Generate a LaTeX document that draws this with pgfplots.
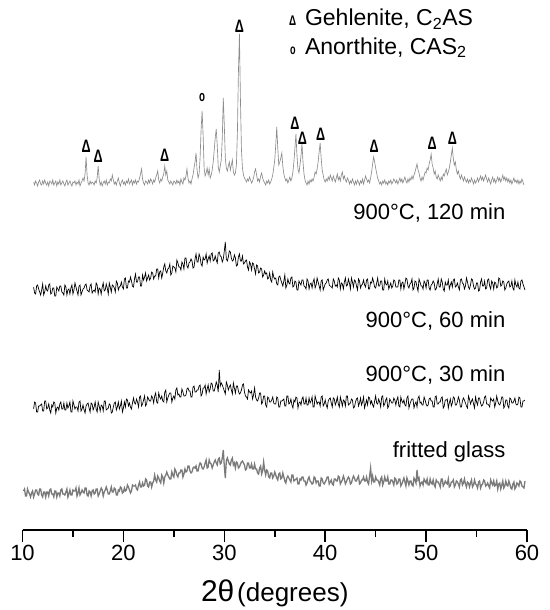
\documentclass[border=0pt]{standalone}
\usepackage{fontspec}
\setmainfont{Liberation Sans}
\usepackage{graphicx}
\usepackage{pgfplots}
\pgfplotsset{compat=1.18}
\definecolor{xrdgray}{HTML}{8C8C8C}
\definecolor{glassgray}{HTML}{7A7A7A}
\newcommand{\dmark}{\scalebox{0.7}[1]{\bfseries Δ}}
\newcommand{\omark}{\scalebox{0.65}[1]{\bfseries o}}

\begin{document}
\begin{tikzpicture}
\begin{axis}[
  scale only axis, width=504.5pt, height=530pt,
  xmin=10, xmax=60, ymin=0, ymax=530,
  axis x line=bottom, axis y line=none,
  axis line style={-, line width=1.6pt},
  xtick={10,20,...,60}, minor xtick={15,25,...,55}, ytick=\empty,
  tick align=outside, major tick length=12pt, minor tick length=7pt,
  tick style={black, line width=1.6pt},
  /pgf/number format/assume math mode=true,
  xticklabel style={font=\fontsize{22}{26}\selectfont},
  xlabel={{\fontsize{30}{30}\selectfont 2θ} {\fontsize{26}{26}\selectfont (degrees)}},
  xlabel style={at={(axis description cs:0.5,0)}, anchor=center, yshift=-63pt},
  clip=false,
  legend style={at={(axis cs:35.9,525)}, anchor=north west, draw=none, fill=none,
    font=\fontsize{23}{27}\selectfont, row sep=6pt},
  legend cell align=left,
]
% 900 C, 120 min: crystallised, step 0.1
\addplot[xrdgray, line width=0.65pt, forget plot] table[header=false, row sep=\\, x expr={11.1+0.1*\coordindex}, y index=0] {
348\\345\\349\\347\\344\\348\\350\\346\\345\\349\\
346\\350\\347\\345\\348\\344\\349\\348\\346\\350\\
345\\347\\349\\344\\348\\346\\350\\345\\347\\349\\
346\\344\\348\\350\\345\\347\\349\\346\\344\\348\\
347\\349\\345\\348\\346\\350\\344\\347\\349\\352\\
349\\356\\373\\355\\347\\345\\349\\346\\348\\347\\
345\\349\\347\\352\\364\\351\\345\\348\\344\\347\\
349\\346\\350\\345\\348\\347\\351\\349\\355\\350\\
346\\348\\345\\349\\352\\347\\344\\348\\350\\346\\
348\\345\\349\\347\\351\\346\\348\\350\\345\\349\\
347\\350\\346\\349\\348\\352\\356\\361\\351\\347\\
345\\349\\348\\346\\350\\347\\351\\349\\346\\350\\
348\\352\\355\\359\\350\\347\\351\\349\\353\\356\\
364\\355\\359\\350\\348\\346\\349\\347\\345\\349\\
348\\346\\350\\347\\349\\345\\351\\348\\346\\352\\
350\\354\\361\\352\\347\\349\\346\\351\\355\\362\\
368\\377\\360\\352\\356\\372\\400\\419\\395\\362\\
354\\357\\362\\355\\361\\352\\355\\360\\368\\380\\
392\\401\\385\\363\\358\\364\\370\\392\\432\\405\\
372\\362\\359\\364\\368\\360\\365\\370\\358\\355\\
357\\365\\398\\458\\496\\430\\380\\362\\355\\352\\
350\\348\\351\\349\\353\\350\\347\\349\\352\\358\\
361\\355\\349\\351\\348\\354\\357\\352\\349\\347\\
345\\349\\347\\350\\346\\348\\351\\355\\362\\370\\
385\\403\\382\\365\\368\\372\\377\\364\\356\\352\\
349\\351\\347\\350\\353\\349\\352\\358\\368\\382\\
396\\375\\361\\357\\365\\374\\386\\368\\356\\350\\
347\\345\\349\\346\\350\\348\\351\\349\\353\\358\\
356\\361\\368\\378\\387\\372\\360\\355\\350\\348\\
351\\349\\353\\350\\355\\352\\349\\354\\351\\348\\
352\\356\\350\\353\\349\\355\\358\\351\\354\\350\\
348\\352\\350\\346\\349\\347\\351\\348\\345\\349\\
346\\350\\348\\345\\349\\347\\351\\346\\350\\354\\
351\\348\\350\\347\\352\\358\\366\\373\\368\\362\\
357\\352\\349\\346\\348\\345\\349\\347\\350\\346\\
348\\345\\349\\347\\350\\346\\348\\351\\349\\347\\
350\\346\\349\\352\\348\\351\\347\\350\\353\\349\\
347\\351\\348\\352\\350\\354\\351\\355\\358\\362\\
366\\360\\357\\352\\349\\353\\350\\354\\358\\357\\
362\\360\\366\\370\\376\\366\\362\\356\\359\\353\\
351\\355\\352\\349\\353\\350\\356\\354\\358\\361\\
355\\358\\362\\368\\375\\382\\371\\365\\368\\360\\
356\\359\\354\\351\\355\\352\\349\\353\\350\\348\\
351\\347\\350\\348\\352\\349\\346\\350\\347\\349\\
352\\348\\351\\354\\350\\353\\349\\352\\355\\351\\
348\\352\\349\\346\\350\\353\\348\\351\\347\\350\\
353\\349\\352\\348\\351\\355\\350\\353\\349\\352\\
348\\351\\347\\350\\346\\349\\352\\348\\350\\347\\
350\\346\\349\\347\\351\\348\\345\\
};
% 900 C, 60 min: step 0.1
\addplot[black, line width=0.7pt, forget plot] table[header=false, row sep=\\, x expr={11.1+0.1*\coordindex}, y index=0] {
243\\237\\236\\244\\245\\241\\238\\235\\240\\246\\
235\\238\\244\\240\\239\\245\\246\\236\\237\\242\\
242\\234\\234\\243\\241\\239\\244\\244\\238\\237\\
235\\245\\243\\235\\240\\241\\236\\242\\245\\236\\
240\\247\\243\\239\\235\\244\\245\\235\\238\\241\\
242\\245\\246\\240\\239\\238\\244\\246\\237\\239\\
240\\238\\247\\245\\236\\242\\241\\236\\243\\247\\
239\\240\\246\\242\\236\\247\\243\\238\\245\\244\\
242\\238\\249\\247\\240\\243\\244\\248\\243\\241\\
251\\252\\242\\242\\249\\248\\253\\249\\244\\243\\
251\\256\\248\\248\\253\\253\\244\\244\\255\\250\\
253\\257\\249\\252\\255\\250\\252\\258\\257\\251\\
254\\254\\261\\261\\252\\258\\259\\252\\257\\263\\
266\\259\\257\\261\\262\\266\\255\\257\\264\\263\\
262\\258\\270\\267\\263\\263\\260\\268\\266\\261\\
272\\272\\264\\262\\267\\268\\271\\269\\262\\263\\
271\\276\\268\\268\\276\\273\\266\\264\\273\\270\\
271\\276\\267\\271\\274\\269\\276\\277\\269\\270\\
274\\270\\267\\277\\278\\274\\273\\268\\271\\279\\
288\\271\\269\\273\\279\\278\\272\\269\\270\\275\\
272\\264\\265\\273\\276\\269\\269\\274\\266\\267\\
269\\270\\263\\260\\268\\266\\260\\267\\266\\261\\
256\\265\\264\\257\\258\\262\\261\\253\\255\\259\\
256\\257\\251\\252\\257\\250\\248\\258\\253\\251\\
252\\246\\245\\253\\254\\250\\247\\244\\249\\255\\
242\\245\\251\\247\\246\\252\\253\\243\\244\\249\\
248\\240\\240\\249\\247\\245\\250\\250\\244\\243\\
241\\251\\249\\241\\246\\247\\242\\248\\251\\242\\
245\\252\\248\\244\\240\\249\\250\\240\\243\\246\\
247\\250\\251\\245\\244\\243\\242\\251\\249\\244\\
245\\243\\252\\250\\241\\247\\246\\241\\248\\252\\
244\\245\\251\\247\\241\\252\\248\\243\\250\\249\\
244\\240\\251\\249\\242\\245\\246\\250\\245\\243\\
250\\251\\241\\241\\248\\247\\252\\248\\243\\242\\
247\\252\\244\\244\\249\\249\\240\\240\\251\\246\\
245\\249\\241\\244\\247\\242\\244\\250\\249\\243\\
243\\243\\250\\250\\241\\247\\248\\241\\246\\252\\
251\\244\\242\\246\\247\\251\\240\\242\\249\\248\\
243\\239\\251\\248\\244\\244\\241\\249\\247\\242\\
250\\250\\242\\240\\245\\246\\249\\247\\240\\241\\
246\\251\\243\\243\\251\\248\\241\\239\\248\\245\\
245\\250\\241\\245\\248\\243\\250\\251\\243\\244\\
247\\243\\240\\250\\251\\247\\246\\241\\244\\252\\
248\\243\\241\\245\\251\\250\\244\\241\\242\\247\\
247\\239\\240\\248\\251\\244\\244\\249\\241\\242\\
250\\251\\244\\241\\249\\247\\241\\248\\247\\242\\
243\\252\\251\\244\\245\\249\\248\\240\\242\\246\\
248\\249\\243\\244\\249\\242\\240\\250\\245\\243\\
248\\242\\241\\249\\250\\246\\243\\240\\
};
% 900 C, 30 min: step 0.1
\addplot[black, line width=0.7pt, forget plot] table[header=false, row sep=\\, x expr={11.1+0.1*\coordindex}, y index=0] {
121\\128\\127\\118\\118\\124\\124\\125\\126\\119\\
119\\129\\129\\121\\122\\126\\120\\117\\125\\123\\
128\\127\\117\\122\\123\\120\\126\\128\\121\\121\\
127\\120\\120\\127\\122\\124\\128\\118\\118\\129\\
125\\121\\123\\123\\119\\128\\129\\119\\121\\125\\
120\\117\\124\\126\\127\\122\\118\\127\\126\\120\\
123\\128\\121\\118\\128\\124\\119\\125\\124\\119\\
129\\129\\120\\121\\122\\126\\125\\117\\118\\123\\
127\\128\\120\\123\\128\\121\\124\\129\\118\\122\\
128\\123\\131\\130\\124\\127\\123\\121\\127\\132\\
127\\126\\131\\128\\123\\133\\134\\124\\126\\130\\
134\\124\\126\\133\\131\\129\\129\\134\\132\\127\\
134\\137\\128\\127\\137\\133\\131\\134\\129\\128\\
138\\140\\128\\132\\135\\137\\137\\128\\132\\134\\
131\\140\\142\\135\\136\\133\\133\\141\\138\\134\\
134\\135\\141\\142\\139\\139\\133\\133\\143\\144\\
138\\138\\140\\140\\144\\145\\134\\136\\142\\142\\
145\\136\\141\\145\\138\\141\\147\\146\\139\\139\\
143\\148\\145\\138\\160\\144\\147\\145\\142\\139\\
136\\148\\145\\140\\143\\145\\140\\136\\147\\142\\
137\\144\\144\\139\\136\\137\\140\\145\\146\\138\\
134\\133\\131\\140\\138\\137\\139\\131\\135\\142\\
133\\130\\129\\132\\137\\137\\126\\128\\134\\134\\
125\\123\\133\\132\\128\\128\\130\\133\\127\\126\\
126\\133\\132\\123\\123\\129\\129\\130\\131\\124\\
124\\134\\134\\126\\127\\131\\125\\122\\130\\128\\
133\\132\\122\\127\\128\\125\\131\\133\\126\\126\\
132\\125\\125\\132\\127\\129\\133\\123\\123\\134\\
130\\126\\128\\128\\124\\133\\134\\124\\126\\130\\
125\\122\\129\\131\\132\\127\\123\\132\\131\\125\\
128\\133\\126\\123\\133\\129\\124\\130\\129\\124\\
134\\134\\125\\126\\127\\131\\130\\122\\123\\128\\
131\\132\\124\\127\\132\\125\\128\\133\\122\\126\\
130\\125\\133\\132\\126\\129\\125\\123\\129\\134\\
127\\126\\131\\128\\123\\133\\134\\124\\126\\130\\
132\\122\\124\\131\\129\\127\\127\\132\\130\\125\\
130\\133\\124\\123\\133\\129\\127\\130\\125\\124\\
132\\134\\122\\126\\129\\131\\131\\122\\126\\128\\
123\\132\\134\\127\\128\\125\\125\\133\\130\\126\\
124\\125\\131\\132\\129\\129\\123\\123\\133\\134\\
126\\126\\128\\128\\132\\133\\122\\124\\130\\130\\
131\\122\\127\\131\\124\\127\\133\\132\\125\\125\\
128\\133\\130\\123\\123\\129\\132\\130\\127\\124\\
122\\134\\131\\126\\129\\131\\126\\122\\133\\128\\
125\\132\\132\\127\\124\\125\\128\\133\\134\\126\\
126\\125\\123\\132\\130\\129\\131\\123\\127\\134\\
129\\126\\125\\128\\133\\133\\122\\124\\130\\130\\
124\\122\\132\\131\\127\\127\\129\\132\\126\\125\\
126\\133\\132\\123\\123\\129\\129\\130\\
};
% fritted glass: step 0.1
\addplot[glassgray, line width=1.3pt, forget plot] table[header=false, row sep=\\, x expr={10.1+0.1*\coordindex}, y index=0] {
39\\41\\34\\34\\41\\38\\36\\33\\37\\39\\
33\\36\\40\\40\\36\\35\\41\\41\\35\\33\\
38\\38\\33\\38\\38\\34\\40\\41\\36\\36\\
33\\39\\39\\33\\37\\37\\34\\40\\41\\36\\
36\\35\\38\\41\\33\\36\\40\\35\\35\\40\\
39\\39\\42\\34\\37\\42\\35\\37\\40\\38\\
37\\42\\42\\35\\34\\39\\38\\34\\39\\40\\
36\\37\\41\\41\\34\\36\\39\\42\\40\\34\\
38\\40\\43\\40\\36\\36\\39\\43\\38\\38\\
42\\41\\35\\35\\40\\39\\43\\42\\37\\38\\
42\\39\\40\\45\\43\\40\\37\\39\\45\\44\\
44\\45\\41\\40\\45\\48\\43\\43\\47\\44\\
45\\51\\50\\44\\43\\48\\48\\43\\47\\49\\
55\\50\\48\\54\\52\\49\\47\\55\\53\\47\\
53\\55\\58\\55\\53\\51\\51\\58\\55\\53\\
61\\59\\55\\53\\57\\57\\60\\60\\53\\56\\
61\\58\\59\\64\\64\\59\\57\\58\\62\\63\\
62\\64\\59\\59\\64\\67\\66\\62\\61\\63\\
67\\70\\62\\63\\70\\67\\66\\62\\65\\68\\
70\\67\\65\\71\\72\\66\\67\\72\\80\\64\\
52\\69\\72\\69\\66\\65\\70\\72\\65\\67\\
62\\68\\67\\62\\63\\66\\68\\69\\67\\65\\
60\\61\\67\\67\\62\\62\\66\\61\\61\\66\\
61\\61\\57\\56\\62\\64\\56\\59\\68\\60\\
55\\60\\59\\53\\52\\57\\57\\52\\54\\58\\
55\\52\\50\\56\\57\\51\\52\\57\\53\\49\\
47\\52\\54\\52\\50\\48\\55\\55\\49\\50\\
51\\52\\46\\46\\51\\50\\53\\53\\49\\49\\
45\\47\\51\\53\\49\\48\\46\\47\\53\\52\\
47\\49\\49\\44\\44\\52\\51\\47\\46\\48\\
50\\53\\53\\46\\48\\50\\46\\45\\51\\51\\
49\\49\\54\\53\\46\\48\\50\\54\\51\\46\\
48\\51\\53\\51\\46\\47\\51\\54\\52\\49\\
49\\52\\54\\46\\47\\50\\50\\53\\49\\49\\
53\\48\\46\\54\\62\\49\\54\\48\\48\\53\\
50\\50\\48\\45\\51\\53\\45\\48\\53\\49\\
49\\53\\46\\46\\50\\50\\48\\45\\52\\51\\
46\\47\\51\\51\\44\\46\\49\\52\\48\\44\\
52\\49\\45\\49\\49\\45\\44\\52\\50\\47\\
60\\50\\52\\44\\47\\48\\45\\51\\49\\47\\
51\\45\\45\\51\\47\\46\\50\\45\\43\\50\\
48\\48\\46\\43\\51\\51\\44\\46\\49\\47\\
46\\51\\43\\44\\48\\48\\50\\43\\45\\49\\
48\\46\\43\\50\\51\\45\\47\\51\\46\\43\\
48\\47\\43\\47\\50\\43\\45\\50\\46\\45\\
42\\48\\49\\42\\45\\46\\50\\49\\44\\45\\
47\\44\\42\\50\\47\\45\\49\\44\\45\\49\\
41\\46\\47\\41\\45\\49\\42\\44\\49\\45\\
44\\49\\46\\42\\41\\46\\48\\41\\43\\47\\
46\\44\\49\\48\\44\\43\\42\\49\\
};
% phase markers
\addplot[draw=none, mark=none, forget plot, nodes near coords={\dmark},
  every node near coord/.append style={anchor=center, inner sep=0pt, font=\fontsize{18}{18}\selectfont}]
  coordinates {(16.3,384) (17.5,374) (24.1,375) (31.5,504) (37.0,407) (37.75,392) (39.55,396) (44.85,384) (50.6,387) (52.6,392)};
\addplot[draw=none, mark=none, forget plot, nodes near coords={\omark},
  every node near coord/.append style={anchor=center, inner sep=0pt, font=\fontsize{15}{15}\selectfont}]
  coordinates {(27.8,432)};
\addlegendimage{empty legend}
\addlegendentry{\makebox[16pt][l]{\fontsize{14}{14}\selectfont\dmark}Gehlenite, C\textsubscript{2}AS}
\addlegendimage{empty legend}
\addlegendentry{\makebox[16pt][l]{\hspace{1pt}\fontsize{14}{14}\selectfont\omark}Anorthite, CAS\textsubscript{2}}
% sample labels
\node[anchor=east, font=\fontsize{22}{26}\selectfont] at (axis cs:58.2,317) {900°C, 120 min};
\node[anchor=east, font=\fontsize{22}{26}\selectfont] at (axis cs:58.2,209) {900°C, 60 min};
\node[anchor=east, font=\fontsize{22}{26}\selectfont] at (axis cs:58.2,155) {900°C, 30 min};
\node[anchor=east, font=\fontsize{22}{26}\selectfont] at (axis cs:58.2,78) {fritted glass};
\end{axis}
\path ([shift={(-22.5pt,-80pt)}]current axis.south west) rectangle ([shift={(23pt,0pt)}]current axis.north east);
\end{tikzpicture}
\end{document}
